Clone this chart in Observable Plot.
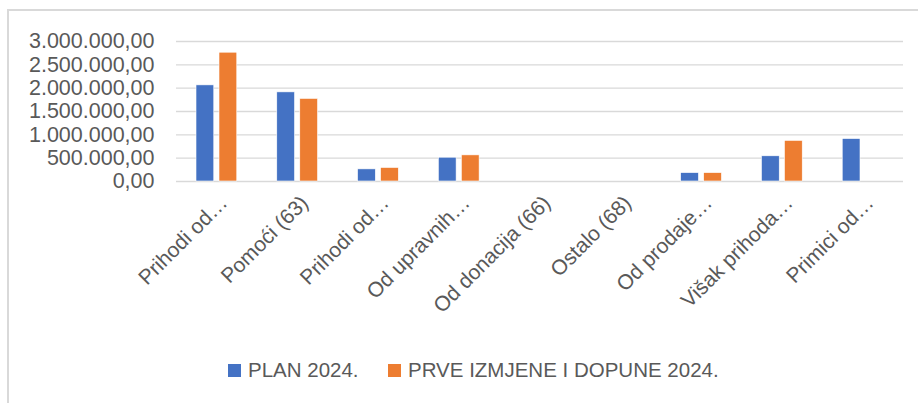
<!DOCTYPE html>
<html>
<head>
<meta charset="utf-8">
<script src="https://cdn.jsdelivr.net/npm/d3@7"></script>
<script src="https://cdn.jsdelivr.net/npm/@observablehq/plot@0.6"></script>
<style>
  html, body { margin: 0; padding: 0; background: #fff; overflow: hidden; width: 918px; height: 403px; }
  #frame { position: absolute; left: 7px; top: 9px; width: 1000px; height: 1000px; border: 2px solid #d9d9d9; box-sizing: border-box; }
  #chart { position: absolute; left: 0; top: 0; }
  #legend { position: absolute; left: 0; top: 358px; width: 918px; font-family: "Liberation Sans", Arial, sans-serif; font-size: 20.5px; color: #595959; }
  .item { position: absolute; top: 0; white-space: nowrap; line-height: 24px; }
  .sw { display: inline-block; width: 13px; height: 13px; vertical-align: 0px; margin-right: 7px; }
</style>
</head>
<body>
<div id="frame"></div>
<div id="chart"></div>
<div id="legend"></div>
<script>
const categories = ["Prihodi od…", "Pomoći (63)", "Prihodi od…", "Od upravnih…", "Od donacija (66)", "Ostalo (68)", "Od prodaje…", "Višak prihoda…", "Primici od…"];
const plan2024 = [2060000, 1910000, 260000, 510000, 0, 0, 180000, 540000, 910000];
const izmjene2024 = [2760000, 1770000, 290000, 560000, 0, 0, 180000, 870000, 0];
const seriesNames = ["PLAN 2024.", "PRVE IZMJENE I DOPUNE 2024."];
const seriesColors = ["#4472C4", "#ED7D31"];
const yTicks = [0, 500000, 1000000, 1500000, 2000000, 2500000, 3000000];

// categories use index keys because two labels are identical
const keys = categories.map((_, i) => i);
const planData = keys.map(i => ({k: i, v: plan2024[i]}));
const izmData = keys.map(i => ({k: i, v: izmjene2024[i]}));

const locale = d3.formatLocale({decimal: ",", thousands: ".", grouping: [3], currency: ["", ""]});
const fmt = locale.format(",.2f");

const txt = "#595959";
const chart = Plot.plot({
  width: 918,
  height: 348,
  marginLeft: 176,
  marginRight: 15,
  marginTop: 41,
  marginBottom: 167,
  style: {fontFamily: "'Liberation Sans', Arial, sans-serif", fontSize: "21px", color: txt, background: "transparent", overflow: "visible"},
  x: {type: "band", domain: keys, padding: 0, round: false, label: null},
  y: {domain: [0, 3000000], label: null},
  marks: [
    Plot.ruleY(yTicks, {stroke: "#d9d9d9", strokeWidth: 1.4}),
    Plot.barY(planData, {x: "k", y: "v", fill: seriesColors[0], stroke: "#fff", strokeWidth: 0.6, insetLeft: 20, insetRight: 43}),
    Plot.barY(izmData, {x: "k", y: "v", fill: seriesColors[1], stroke: "#fff", strokeWidth: 0.6, insetLeft: 43, insetRight: 20}),
    Plot.axisY({ticks: yTicks, tickFormat: fmt, tickSize: 0, tickPadding: 22, fill: txt, fontSize: 21.5, label: null}),
    Plot.axisX({tickFormat: i => categories[i], tickSize: 0, tickPadding: 18, dx: 7, tickRotate: -45, fill: txt, fontSize: 21, label: null})
  ]
});
document.getElementById("chart").appendChild(chart);

const legend = document.getElementById("legend");
const positions = [228, 388];
seriesNames.forEach((name, i) => {
  const d = document.createElement("div");
  d.className = "item";
  d.style.left = positions[i] + "px";
  d.innerHTML = `<span class="sw" style="background:${seriesColors[i]}"></span>${name}`;
  legend.appendChild(d);
});
</script>
</body>
</html>
